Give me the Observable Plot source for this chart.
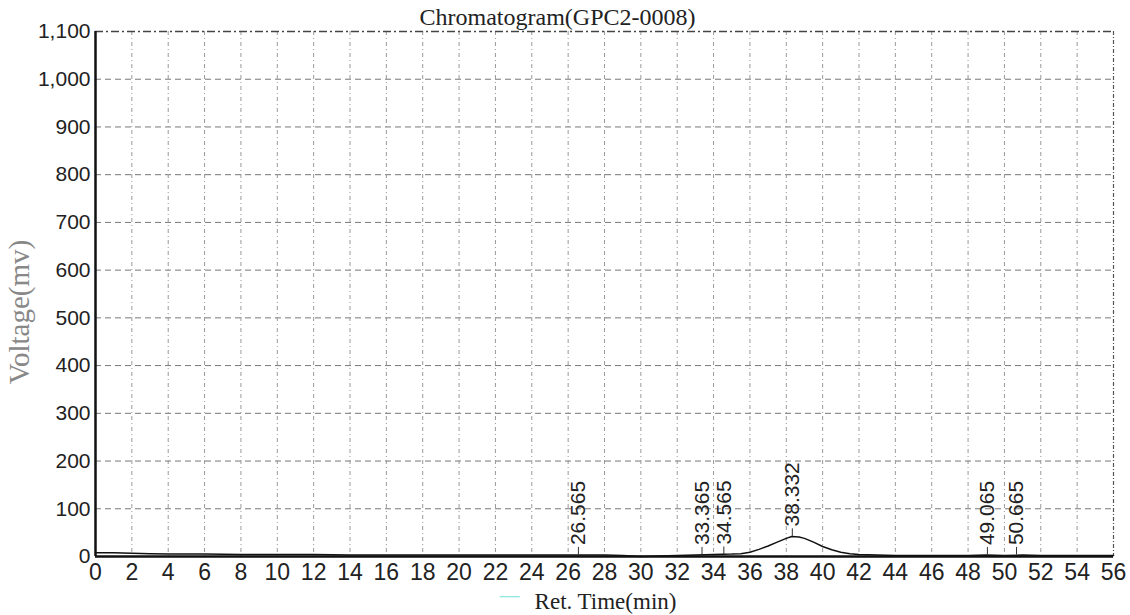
<!DOCTYPE html>
<html>
<head>
<meta charset="utf-8">
<script src="https://cdn.jsdelivr.net/npm/d3@7"></script>
<script src="https://cdn.jsdelivr.net/npm/@observablehq/plot@0.6"></script>
<style>
  html, body { margin: 0; padding: 0; background: #fff; }
  #chart { width: 1130px; height: 615px; }
</style>
</head>
<body>
<div id="chart"></div>
<script>
// ---- data ----
const chartTitle = "Chromatogram(GPC2-0008)";
const xLabel = "Ret. Time(min)";
const yLabel = "Voltage(mv)";

const xTicks = [0,2,4,6,8,10,12,14,16,18,20,22,24,26,28,30,32,34,36,38,40,42,44,46,48,50,52,54,56];
const yTicks = [0,100,200,300,400,500,600,700,800,900,1000,1100];

const retTime = [0,1,2,3,4,5,6,8,10,12,14,16,18,20,22,24,26,27,28,29,30,31,32,33,34,35,35.5,36,36.5,37,37.5,38,38.3,38.7,39,39.5,40,40.5,41,41.5,42,43,44,46,48,49,50,51,52,54,56];
const voltage = [8,8,7,6,5,5,5,4,4,4,3,3,3,3,3,3,3,3,3,2,0,1,2,3,4,5,6,9,15,22,30,38,42,41,38,30,21,14,9,6,4,3,2,2,2,3,2,3,2,2,2];

const peakTimes = [26.565, 33.365, 34.565, 38.332, 49.065, 50.665];
const peakValues = [3, 3, 4, 42, 3, 3];
const peakLabels = ["26.565", "33.365", "34.565", "38.332", "49.065", "50.665"];

// ---- build ----
const signal = retTime.map((t, i) => ({t, v: voltage[i]}));
const peaks = peakTimes.map((t, i) => ({t, v: peakValues[i], label: peakLabels[i]}));
const serif = "'Liberation Serif', 'Times New Roman', serif";

const chart = Plot.plot({
  width: 1130,
  height: 615,
  marginLeft: 95,
  marginRight: 17,
  marginTop: 31,
  marginBottom: 59,
  style: {fontFamily: "'Liberation Sans', Arial, sans-serif", fontSize: "21px", background: "#fff", color: "#222", overflow: "visible"},
  x: {domain: [0, 56], tickSize: 0, label: null},
  y: {domain: [0, 1100], tickSize: 0, label: null},
  marks: [
    Plot.gridY(yTicks.slice(1, -1), {stroke: "#777", strokeOpacity: 1, strokeDasharray: "6,4"}),
    Plot.gridX(xTicks.slice(1, -1), {stroke: "#999", strokeOpacity: 1, strokeDasharray: "4,3,1,3"}),
    Plot.ruleY([1100], {stroke: "#444", strokeWidth: 1.5, strokeDasharray: "8,3,2,3"}),
    Plot.ruleX([56], {stroke: "#555", strokeWidth: 1.2, strokeDasharray: "4,2,1,2"}),
    Plot.axisX(xTicks, {tickSize: 0, tickPadding: 7, tickFormat: d => String(d), fontSize: 23, label: null}),
    Plot.axisY(yTicks, {tickSize: 0, tickPadding: 5, tickFormat: d3.format(","), fontSize: 21, label: null}),
    Plot.ruleX([0], {stroke: "#111", strokeWidth: 2.5}),
    Plot.ruleY([0], {stroke: "#111", strokeWidth: 2.5}),
    Plot.line(signal, {x: "t", y: "v", stroke: "#111", strokeWidth: 1.5}),
    Plot.ruleX(peaks, {x: "t", y1: "v", y2: d => d.v + 16, stroke: "#333", strokeWidth: 1}),
    Plot.text(peaks, {x: "t", y: "v", text: "label", rotate: -90, textAnchor: "start", dy: -10, fontSize: 21, fill: "#222"}),
    Plot.text([chartTitle], {frameAnchor: "top", textAnchor: "middle", lineAnchor: "bottom", dx: -47, dy: -7, fontFamily: serif, fontSize: 24, fill: "#222"}),
    Plot.text([yLabel], {frameAnchor: "left", textAnchor: "middle", lineAnchor: "middle", rotate: -90, dx: -76, dy: 18, fontFamily: serif, fontSize: 29, fill: "#888"}),
    Plot.text([xLabel], {frameAnchor: "bottom", textAnchor: "middle", lineAnchor: "bottom", dx: 1, dy: 52, fontFamily: serif, fontSize: 23, fill: "#222"}),
    Plot.text(["\u2014"], {frameAnchor: "bottom", textAnchor: "middle", lineAnchor: "bottom", dx: -95, dy: 45, fontSize: 20, fill: "#8ee8e0"})
  ]
});
document.getElementById("chart").appendChild(chart);
</script>
</body>
</html>
